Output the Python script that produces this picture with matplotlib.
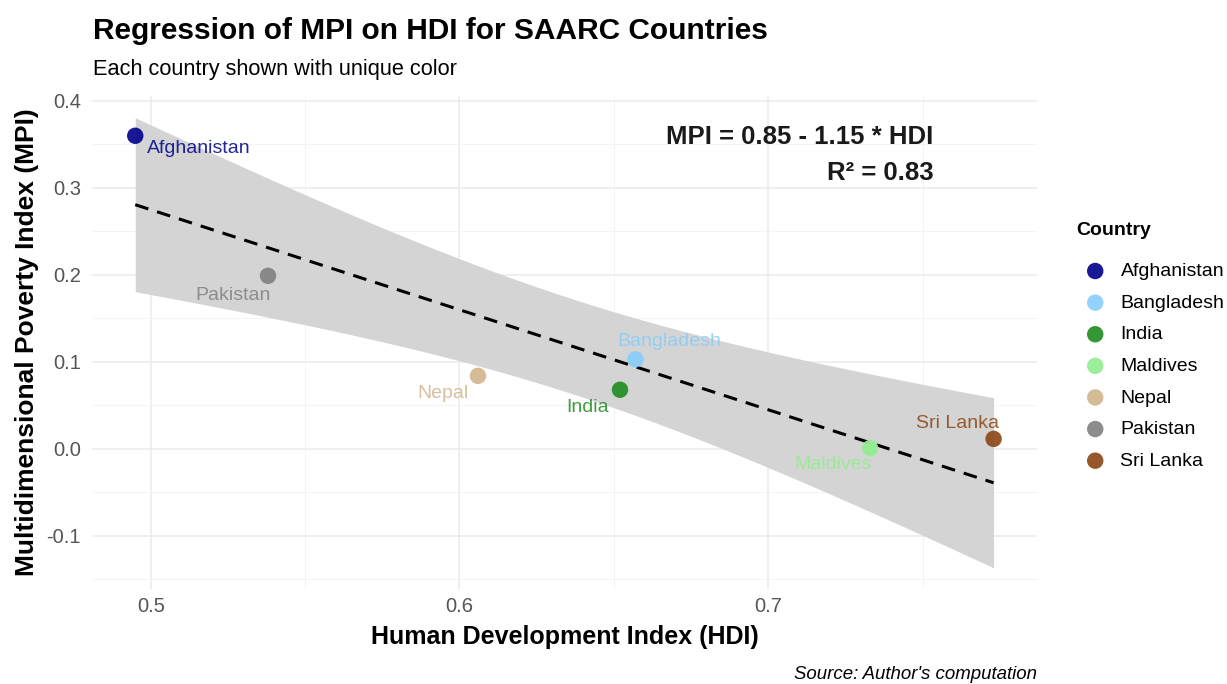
import matplotlib.pyplot as plt
import numpy as np

# Country data: HDI vs MPI
countries = ['Afghanistan', 'Bangladesh', 'India', 'Maldives', 'Nepal', 'Pakistan', 'Sri Lanka']
hdi = [0.495, 0.657, 0.652, 0.733, 0.606, 0.538, 0.773]
mpi = [0.360, 0.103, 0.068, 0.001, 0.084, 0.199, 0.0115]
colors = ['#00008B', '#87CEFA', '#1E8B1E', '#90EE90', '#D2B48C', '#808080', '#8B4513']

# Fitted model as reported
intercept = 0.85
slope = -1.15
r_squared = 0.83

# label offsets (points) and alignment per country
label_pos = {
    'Afghanistan': (8.5, -9, 'left'),
    'Bangladesh': (24.5, 13, 'center'),
    'India': (-23, -13, 'center'),
    'Maldives': (-26.5, -12, 'center'),
    'Nepal': (-25, -13, 'center'),
    'Pakistan': (-25, -14, 'center'),
    'Sri Lanka': (-26, 11, 'center'),
}

plt.rcParams['font.family'] = ['Liberation Sans', 'DejaVu Sans']

fig = plt.figure(figsize=(12.27, 6.84), dpi=100)
ax = fig.add_axes([0.075, 0.139, 0.770, 0.721])

x = np.array(hdi)
y = np.array(mpi)
n = len(x)

# 95% confidence band around the regression line
xs = np.linspace(x.min(), x.max(), 100)
fit = intercept + slope * xs
resid = y - (intercept + slope * x)
s = np.sqrt(np.sum(resid ** 2) / (n - 2))
sxx = np.sum((x - x.mean()) ** 2)
se = s * np.sqrt(1 / n + (xs - x.mean()) ** 2 / sxx)
t = 2.5706
ax.fill_between(xs, fit - t * se, fit + t * se, color='#D4D4D4', lw=0, zorder=1)

# points and labels
for c, xi, yi, col in zip(countries, hdi, mpi, colors):
    ax.scatter(xi, yi, s=140, color=col, alpha=0.9, edgecolors='none', zorder=3, label=c)
    dx, dy, ha = label_pos[c]
    ax.annotate(c, (xi, yi), xytext=(dx, dy), textcoords='offset points',
                ha=ha, va='center', fontsize=14, color=col, alpha=0.85, zorder=4)

ax.plot(xs, fit, color='black', lw=2.2, ls=(0, (4.5, 3)), zorder=2)

ax.text(0.7535, 0.359, f'MPI = {intercept:.2f} - {abs(slope):.2f} * HDI', ha='right', va='center',
        fontsize=18.5, fontweight='bold', color='#1a1a1a')
ax.text(0.7535, 0.317, f'R² = {r_squared:.2f}', ha='right', va='center',
        fontsize=18.5, fontweight='bold', color='#1a1a1a')

ax.set_xlim(0.481, 0.787)
ax.set_ylim(-0.161, 0.406)
ax.set_xticks([0.5, 0.6, 0.7])
ax.set_xticklabels(['0.5', '0.6', '0.7'])
ax.set_yticks([-0.1, 0.0, 0.1, 0.2, 0.3, 0.4])
ax.set_yticklabels(['-0.1', '0.0', '0.1', '0.2', '0.3', '0.4'])
ax.set_xticks([0.55, 0.65, 0.75], minor=True)
ax.set_yticks([-0.15, -0.05, 0.05, 0.15, 0.25, 0.35], minor=True)
ax.grid(True, which='major', color='#EBEBEB', lw=1.1)
ax.grid(True, which='minor', color='#F3F3F3', lw=0.6)
ax.set_axisbelow(True)
for sp in ax.spines.values():
    sp.set_visible(False)
ax.tick_params(which='both', length=0, labelsize=14.5, labelcolor='#555555')
ax.tick_params(axis='y', pad=8)
ax.tick_params(axis='x', pad=6)

ax.set_xlabel('Human Development Index (HDI)', fontsize=18, fontweight='bold', labelpad=6)
ax.set_ylabel('Multidimensional Poverty Index (MPI)', fontsize=19, fontweight='bold', labelpad=5)

fig.text(0.076, 0.955, 'Regression of MPI on HDI for SAARC Countries', fontsize=21.5,
         fontweight='bold', ha='left', va='center')
fig.text(0.076, 0.898, 'Each country shown with unique color', fontsize=15.7, ha='left', va='center')
fig.text(0.845, 0.014, "Source: Author's computation", fontsize=13.4, style='italic',
         ha='right', va='center')

leg = ax.legend(title='Country', loc='upper left', bbox_to_anchor=(1.033, 0.76), frameon=False,
                fontsize=14, title_fontproperties={'weight': 'bold', 'size': 14},
                handletextpad=0.3, labelspacing=0.72, markerscale=1.0, borderaxespad=0)
leg._legend_box.align = 'left'
leg._legend_box.sep = 17

fig.savefig('out.png', dpi=100)
